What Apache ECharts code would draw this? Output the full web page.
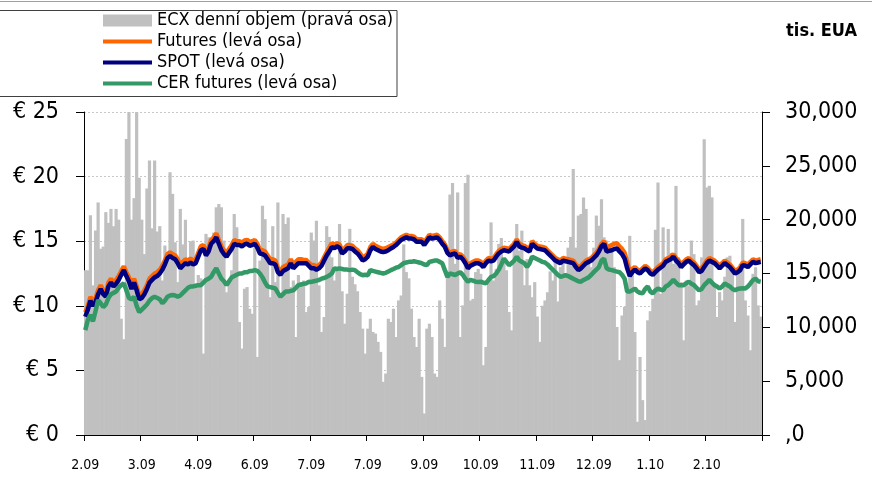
<!DOCTYPE html>
<html>
<head>
<meta charset="utf-8">
<script src="https://cdn.jsdelivr.net/npm/echarts@6/dist/echarts.min.js"></script>
<style>
html,body{margin:0;padding:0;background:#fff;}
#chart{width:872px;height:483px;}
</style>
</head>
<body>
<div id="chart"></div>
<script>
// x-axis tick labels (one every 22 trading days)
const tickLabels = ['2.09','3.09','4.09','6.09','7.09','7.09','9.09','10.09','11.09','12.09','1.10','2.10'];
const leftTicks = ['€ 0','€ 5','€ 10','€ 15','€ 20','€ 25'];
const rightTicks = [',0','5,000','10,000','15,000','20,000','25,000','30,000'];
const seriesNames = ['ECX denní objem (pravá osa)','Futures (levá osa)','SPOT (levá osa)','CER futures (levá osa)'];

// ECX daily volume, thousand EUA (right axis)
const volume = [
15300,15300,20400,13900,19000,21600,17300,17500,20700,19700,
21000,19400,21000,20000,10800,8900,27500,30000,20000,22000,
30000,23900,20000,16800,22900,25500,19200,25500,18900,19400,
14350,17600,16500,24400,22400,17900,14200,21000,17700,20000,
16050,18000,
18060,13900,14860,14550,7560,18680,18360,17300,18800,21150,
21450,21150,18060,13270,14200,15300,20530,19300,10500,8030,
13580,13740,11730,11260,17400,7250,16200,21300,20050,16650,
12800,19400,14200,21600,12800,20530,19600,20200,13740,14350,
9100,14860,14200,14350,11420,
11890,18800,18060,19900,13900,9570,10960,19400,18400,16500,
14350,15590,19600,13350,10340,13120,19150,14700,14000,13350,
11420,9880,7560,9880,10800,9570,9420,8650,7720,4940,
5710,10800,10500,11730,9100,12500,12960,17700,15130,14550,
11730,9100,8180,10800,5400,2000,9880,10340,9100,5710,
5400,12500,10800,8180,15280,22330,23400,15900,22530,9100,
12040,23400,24170,12500,12650,15130,15430,14970,6480,8180,
14350,19750,14350,15430,17750,18300,16200,15300,11420,9720,
17750,19600,17130,18980,13900,
16340,13900,12800,14200,11000,8650,12000,12500,13270,15200,
14350,16650,12400,15590,16400,14700,17400,18400,24700,17400,
20380,20530,22070,21000,15900,15590,17400,20380,19440,21900,
18360,18060,17750,17130,15590,10030,6950,11100,11900,13740,
18500,
15590,9570,1230,7250,3240,1390,10650,11500,12650,19060,
23450,13120,19290,15900,19140,16900,15900,23140,16500,14200,
8800,14350,13900,18060,16800,12040,12500,16500,27470,22990,
23150,22070,13900,10960,13270,12500,14700,16500,16650,15590,
10500,15280,15900,20070,12500,11100,7870,14970,15590,12040,
11000
];

// EUA futures, EUR (left axis)
const futures = [
9.5,10.0,10.7,10.3,10.6,11.2,11.6,11.2,11.0,11.8,
12.1,11.8,12.0,12.3,12.7,13.05,12.6,12.2,11.6,12.1,
11.5,10.8,10.9,11.2,11.6,12.1,12.3,12.5,12.6,12.8,
13.1,13.5,14.0,14.15,14.0,13.9,13.6,13.2,13.4,13.6,
13.5,13.65,13.5,13.6,14.1,14.6,14.7,14.2,14.5,15.1,
15.3,15.6,15.1,14.6,14.3,14.1,14.4,14.7,15.1,15.0,
15.0,14.9,15.05,15.1,14.95,15.0,15.1,14.8,14.35,14.3,
14.2,13.9,13.6,13.6,13.5,12.9,12.7,13.0,13.1,13.2,
13.6,13.2,13.4,13.6,13.6,13.55,13.55,13.35,13.15,13.15,
13.05,13.15,13.35,13.75,14.15,14.5,14.85,14.7,14.85,14.75,
14.3,14.45,14.7,14.7,14.65,14.45,14.3,14.05,13.75,13.85,
14.05,14.55,14.8,14.65,14.55,14.45,14.4,14.45,14.55,14.65,
14.75,14.9,15.1,15.3,15.4,15.5,15.4,15.4,15.35,15.15,
15.15,15.15,14.9,15.2,15.5,15.4,15.45,15.5,15.3,15.0,
14.75,14.3,14.1,14.2,14.25,13.9,14.0,13.8,13.5,13.1,
13.3,13.4,13.5,13.5,13.4,13.2,13.5,13.7,13.65,13.7,
14.0,14.25,14.4,14.5,14.45,14.4,14.6,14.8,15.15,14.8,
14.7,14.64,14.5,14.4,15.0,14.8,14.64,14.6,14.55,14.5,
14.3,14.1,13.9,13.7,13.6,13.5,13.7,13.65,13.6,13.55,
13.5,13.2,12.96,13.1,13.3,13.5,13.6,13.7,13.9,14.1,
14.4,14.8,15.0,14.5,14.6,14.7,14.8,14.85,14.6,14.4,
14.1,13.4,12.6,12.85,13.0,12.8,12.7,12.9,13.1,12.96,
12.7,12.6,12.8,13.0,13.15,13.3,13.6,13.7,13.8,14.0,
13.7,13.5,13.2,13.4,13.6,13.7,13.5,13.35,13.1,12.8,
12.9,13.2,13.5,13.7,13.6,13.5,13.3,13.1,13.3,13.5,
13.35,13.2,12.95,12.7,12.8,12.96,13.35,13.3,13.2,13.4,
13.6,13.5,13.55,13.6
];

// EUA spot, EUR (left axis)
const spot = [
9.15,9.7,10.4,10.0,10.3,10.9,11.3,10.9,10.7,11.5,
11.8,11.5,11.7,12.0,12.4,12.76,12.3,11.9,11.3,11.8,
11.2,10.5,10.6,10.9,11.3,11.8,12.0,12.2,12.3,12.5,
12.8,13.2,13.7,13.85,13.7,13.6,13.3,12.9,13.1,13.3,
13.2,13.35,13.2,13.3,13.8,14.3,14.4,13.9,14.2,14.8,
15.0,15.3,14.8,14.3,14.0,13.8,14.1,14.4,14.8,14.7,
14.7,14.6,14.75,14.8,14.65,14.7,14.8,14.5,14.05,14.0,
13.9,13.6,13.3,13.3,13.2,12.6,12.4,12.7,12.8,12.9,
13.3,12.9,13.1,13.3,13.3,13.3,13.3,13.1,12.9,12.9,
12.8,12.9,13.1,13.5,13.9,14.2,14.55,14.45,14.6,14.5,
14.05,14.2,14.45,14.45,14.4,14.2,14.05,13.8,13.5,13.6,
13.8,14.3,14.55,14.4,14.3,14.2,14.15,14.2,14.3,14.44,
14.55,14.7,14.9,15.1,15.2,15.3,15.2,15.2,15.15,14.95,
14.95,14.95,14.7,15.0,15.3,15.2,15.25,15.3,15.1,14.8,
14.57,14.1,13.9,14.0,14.05,13.7,13.8,13.6,13.3,12.9,
13.1,13.2,13.3,13.3,13.2,13.0,13.3,13.5,13.45,13.5,
13.8,14.05,14.2,14.3,14.25,14.2,14.4,14.6,14.95,14.6,
14.5,14.44,14.3,14.2,14.8,14.6,14.44,14.4,14.35,14.3,
14.1,13.9,13.7,13.5,13.4,13.3,13.5,13.45,13.4,13.35,
13.3,13.0,12.76,12.9,13.1,13.3,13.4,13.5,13.7,13.9,
14.2,14.6,14.8,14.2,14.25,14.3,14.4,14.44,14.2,14.0,
13.66,12.9,12.3,12.6,12.8,12.6,12.5,12.7,12.9,12.76,
12.5,12.4,12.6,12.8,12.95,13.1,13.4,13.5,13.6,13.8,
13.5,13.3,13.0,13.2,13.4,13.5,13.3,13.15,12.9,12.6,
12.7,13.0,13.3,13.5,13.4,13.3,13.1,12.9,13.1,13.3,
13.15,13.0,12.75,12.5,12.6,12.76,13.15,13.1,13.0,13.2,
13.4,13.3,13.35,13.4
];

// CER futures, EUR (left axis)
const cer = [
8.12,8.9,9.3,8.8,9.6,10.44,10.2,9.9,10.1,10.6,
10.9,11.0,11.1,11.4,11.6,11.73,11.2,10.6,10.5,10.7,
10.0,9.5,9.7,9.9,10.1,10.4,10.6,10.7,10.6,10.5,
10.2,10.4,10.7,10.8,10.83,10.8,10.7,10.8,11.0,11.2,
11.4,11.5,11.5,11.55,11.6,11.6,11.8,12.0,12.1,12.24,
12.6,12.9,12.5,12.1,11.9,11.6,11.9,12.2,12.3,12.4,
12.5,12.5,12.6,12.6,12.7,12.7,12.76,12.7,12.5,12.2,
11.8,11.5,11.45,11.4,11.34,11.0,10.7,10.9,11.1,11.1,
11.15,11.2,11.4,11.6,11.65,11.7,11.73,11.86,11.85,11.9,
11.95,12.0,12.1,12.15,12.24,12.35,12.5,12.9,12.85,12.9,
12.85,12.8,12.8,12.76,12.8,12.76,12.6,12.45,12.37,12.4,
12.37,12.76,12.7,12.65,12.6,12.55,12.5,12.55,12.65,12.76,
12.85,12.95,13.0,13.15,13.3,13.35,13.4,13.4,13.45,13.4,
13.35,13.3,13.2,13.15,13.4,13.45,13.5,13.5,13.4,13.3,
12.76,12.24,12.5,12.45,12.37,12.5,12.6,12.4,12.1,11.86,
12.0,11.95,11.86,11.85,11.86,11.8,11.73,12.0,12.24,12.3,
12.5,12.8,13.2,13.66,13.4,13.15,13.3,13.5,13.8,13.5,
13.4,13.3,13.0,13.3,13.8,13.7,13.6,13.5,13.4,13.35,
13.2,13.0,12.8,12.6,12.4,12.24,12.3,12.37,12.3,12.2,
12.1,12.0,11.9,11.86,12.0,12.1,12.2,12.4,12.6,12.8,
13.0,13.5,13.66,12.9,12.8,12.76,12.7,12.65,12.6,12.4,
12.1,11.1,11.1,11.2,11.34,11.1,11.0,10.96,11.3,11.5,
11.1,10.96,11.2,11.34,11.25,11.2,11.5,11.6,11.8,12.0,
11.8,11.6,11.6,11.6,11.75,11.86,11.7,11.6,11.4,11.2,
11.3,11.6,11.8,12.0,11.8,11.6,11.5,11.34,11.5,11.73,
11.6,11.5,11.3,11.2,11.3,11.34,11.35,11.34,11.5,11.73,
12.0,12.1,11.9,11.86
];

const categories = volume.map((_, i) => String(i));
const LABEL_EVERY = 22;
const FONT = "'DejaVu Sans Condensed', 'Liberation Sans', sans-serif";
const LINE_ICON = 'path://M0,0 L49,0 L49,4 L0,4 Z';

const chart = echarts.init(document.getElementById('chart'), null, {renderer: 'canvas'});
chart.setOption({
  animation: false,
  backgroundColor: '#ffffff',
  textStyle: {fontFamily: FONT, color: '#000'},
  grid: {left: 84, right: 110, top: 112, bottom: 48},
  legend: {
    orient: 'vertical',
    left: 103, top: 10,
    padding: 0,
    itemGap: 0,
    itemWidth: 49, itemHeight: 12,
    symbolKeepAspect: true,
    textStyle: {fontFamily: FONT, fontSize: 18, lineHeight: 21, color: '#000'},
    data: [
      {name: seriesNames[0], icon: 'rect'},
      {name: seriesNames[1], icon: LINE_ICON},
      {name: seriesNames[2], icon: LINE_ICON},
      {name: seriesNames[3], icon: LINE_ICON}
    ]
  },
  graphic: [
    {type: 'line', shape: {x1: 0, y1: 1.5, x2: 872, y2: 1.5}, style: {stroke: '#a0a0a0', lineWidth: 1}, silent: true},
    {type: 'rect', shape: {x: -1, y: 10.5, width: 398, height: 86}, style: {fill: 'none', stroke: '#404040', lineWidth: 1}, silent: true},
    {type: 'text', right: 15, top: 22, style: {text: 'tis. EUA', font: 'bold 18px ' + FONT, fill: '#000'}}
  ],
  xAxis: {
    type: 'category',
    data: categories,
    boundaryGap: true,
    axisLine: {lineStyle: {color: '#000', width: 1}},
    axisTick: {show: true, interval: LABEL_EVERY - 1, length: 6, lineStyle: {color: '#000'}},
    axisLabel: {
      interval: LABEL_EVERY - 1,
      margin: 23,
      fontSize: 14,
      color: '#000',
      fontFamily: FONT,
      formatter: (v, idx) => tickLabels[Math.round(idx / LABEL_EVERY)] || ''
    },
    splitLine: {show: false}
  },
  yAxis: [
    {
      type: 'value', position: 'left', min: 0, max: 25, interval: 5,
      axisLine: {show: true, lineStyle: {color: '#000', width: 1}},
      axisTick: {show: true, length: 8, lineStyle: {color: '#000'}},
      axisLabel: {margin: 25, fontSize: 23, color: '#000', fontFamily: FONT,
        formatter: v => leftTicks[Math.round(v / 5)]},
      splitLine: {show: true, lineStyle: {color: '#c8c8c8', type: [2, 2], width: 1}}
    },
    {
      type: 'value', position: 'right', min: 0, max: 30000, interval: 5000,
      axisLine: {show: true, lineStyle: {color: '#000', width: 1}},
      axisTick: {show: true, length: 8, lineStyle: {color: '#000'}},
      axisLabel: {margin: 23, fontSize: 23, color: '#000', fontFamily: FONT,
        formatter: v => rightTicks[Math.round(v / 5000)]},
      splitLine: {show: false}
    }
  ],
  series: [
    {name: seriesNames[0], type: 'bar', yAxisIndex: 1, data: volume,
     barWidth: 3.2, itemStyle: {color: '#c0c0c0'}, emphasis: {disabled: true}},
    {name: seriesNames[1], type: 'line', yAxisIndex: 0, data: futures, symbol: 'none',
     lineStyle: {color: '#ff6600', width: 4.5}, itemStyle: {color: '#ff6600'}},
    {name: seriesNames[2], type: 'line', yAxisIndex: 0, data: spot, symbol: 'none',
     lineStyle: {color: '#000080', width: 4.5}, itemStyle: {color: '#000080'}},
    {name: seriesNames[3], type: 'line', yAxisIndex: 0, data: cer, symbol: 'none',
     lineStyle: {color: '#339966', width: 4.5}, itemStyle: {color: '#339966'}}
  ]
});
</script>
</body>
</html>
